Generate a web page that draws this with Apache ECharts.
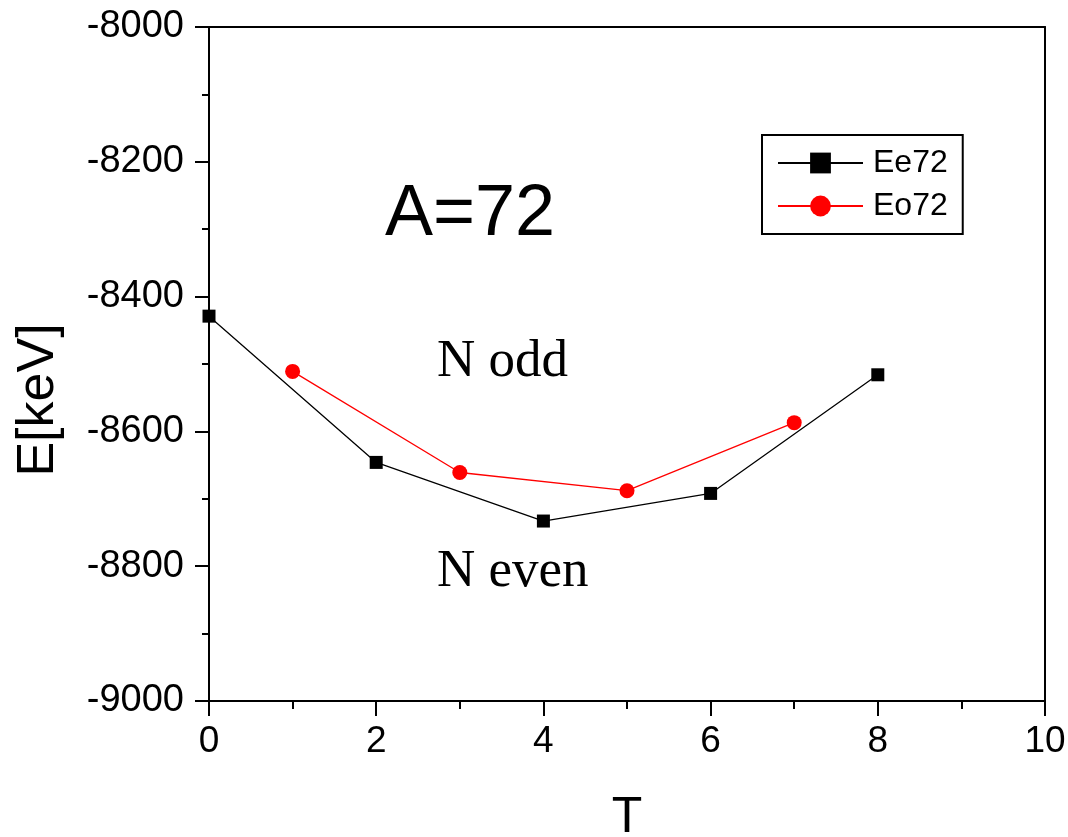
<!DOCTYPE html>
<html>
<head>
<meta charset="utf-8">
<script src="https://cdn.jsdelivr.net/npm/echarts@6/dist/echarts.min.js"></script>
<style>
html,body{margin:0;padding:0;background:#fff;overflow:hidden;}
#chart{width:1068px;height:837px;}
</style>
</head>
<body>
<div id="chart"></div>
<script>
// Data
const eeT = [0, 2, 4, 6, 8];
const eeE = [-8429, -8646, -8733, -8692, -8516];
const eoT = [1, 3, 5, 7];
const eoE = [-8511, -8661, -8688, -8587];
const seriesNames = ['Ee72', 'Eo72'];
const xTicks = [0, 2, 4, 6, 8, 10];
const yTicks = [-9000, -8800, -8600, -8400, -8200, -8000];

const chart = echarts.init(document.getElementById('chart'));
const option = {
  backgroundColor: '#fff',
  animation: false,
  grid: {left: 209, right: 23, top: 27, bottom: 136, containLabel: false, outerBoundsMode: 'none'},
  legend: {
    data: seriesNames,
    orient: 'vertical',
    left: 762, top: 135,
    padding: [12, 15, 12, 15],
    itemWidth: 85, itemHeight: 26, itemGap: 11,
    borderColor: '#000', borderWidth: 2,
    textStyle: {fontSize: 32, lineHeight: 29, color: '#000', padding: [0, 0, 0, 5], fontFamily: 'Liberation Sans, Arial, sans-serif'}
  },
  xAxis: [{
    type: 'value', min: xTicks[0], max: xTicks[xTicks.length - 1], interval: 2,
    axisLine: {show: true, onZero: false, lineStyle: {color: '#000', width: 2}},
    axisTick: {show: true, length: 15, lineStyle: {color: '#000', width: 2}},
    minorTick: {show: true, splitNumber: 2, length: 8, lineStyle: {color: '#000', width: 2}},
    splitLine: {show: false},
    axisLabel: {fontSize: 37, color: '#000', margin: 22, fontFamily: 'Liberation Sans, Arial, sans-serif'},
    name: 'T', nameLocation: 'middle', nameGap: 92,
    nameTextStyle: {fontSize: 50, color: '#000', fontFamily: 'Liberation Sans, Arial, sans-serif'}
  }, {
    type: 'value', position: 'top', min: 0, max: 10,
    axisLine: {show: true, onZero: false, lineStyle: {color: '#000', width: 2}},
    axisTick: {show: false}, axisLabel: {show: false}, splitLine: {show: false}
  }],
  yAxis: [{
    type: 'value', min: yTicks[0], max: yTicks[yTicks.length - 1], interval: 200,
    axisLine: {show: true, onZero: false, lineStyle: {color: '#000', width: 2}},
    axisTick: {show: true, length: 14, lineStyle: {color: '#000', width: 2}},
    minorTick: {show: true, splitNumber: 2, length: 7, lineStyle: {color: '#000', width: 2}},
    splitLine: {show: false},
    axisLabel: {fontSize: 38, color: '#000', margin: 25, fontFamily: 'Liberation Sans, Arial, sans-serif',
      formatter: v => String(v)},
    name: 'E[keV]', nameLocation: 'middle', nameGap: 144, nameRotate: 90,
    nameTextStyle: {fontSize: 52, color: '#000', padding: [0, 72, 0, 0], fontFamily: 'Liberation Sans, Arial, sans-serif'}
  }, {
    type: 'value', position: 'right', min: -9000, max: -8000,
    axisLine: {show: true, onZero: false, lineStyle: {color: '#000', width: 2}},
    axisTick: {show: false}, axisLabel: {show: false}, splitLine: {show: false}
  }],
  series: [{
    name: seriesNames[0], type: 'line',
    data: eeT.map((t, i) => [t, eeE[i]]),
    symbol: 'rect', symbolSize: 13,
    lineStyle: {color: '#000', width: 1.3},
    itemStyle: {color: '#000'},
    z: 2
  }, {
    name: seriesNames[1], type: 'line',
    data: eoT.map((t, i) => [t, eoE[i]]),
    symbol: 'circle', symbolSize: 15,
    lineStyle: {color: '#ff0000', width: 1.3},
    itemStyle: {color: '#ff0000'},
    z: 3
  }],
  graphic: [
    {type: 'text', left: 385, top: 179, style: {text: 'A=72', fontSize: 72, fill: '#000', fontFamily: 'Liberation Sans, Arial, sans-serif'}},
    {type: 'text', left: 437, top: 336, style: {text: 'N odd', fontSize: 53, fill: '#000', fontFamily: 'Liberation Serif, Times New Roman, serif'}},
    {type: 'text', left: 437, top: 546, style: {text: 'N even', fontSize: 53, fill: '#000', fontFamily: 'Liberation Serif, Times New Roman, serif'}}
  ]
};
chart.setOption(option);
</script>
</body>
</html>
